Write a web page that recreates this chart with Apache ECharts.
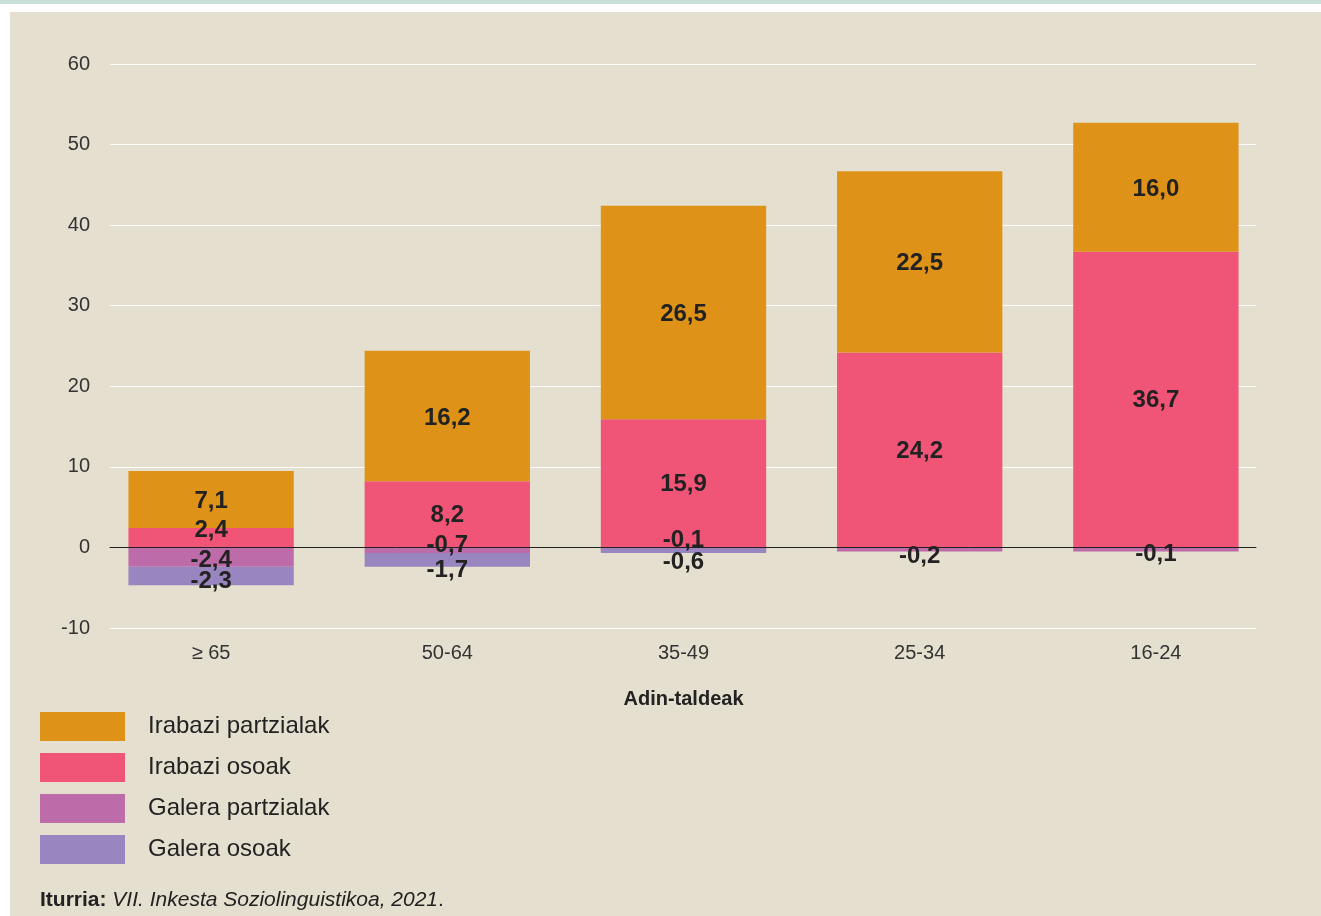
<!DOCTYPE html>
<html>
<head>
<meta charset="utf-8">
<script src="https://cdn.jsdelivr.net/npm/echarts@6/dist/echarts.min.js"></script>
<style>
  html, body { margin: 0; padding: 0; background: #fff; }
  #main { width: 1321px; height: 916px; }
</style>
</head>
<body>
<div id="main"></div>
<script>
// adin-taldeak
const categories = ["≥ 65", "50-64", "35-49", "25-34", "16-24"];
// balioak (%)
const irabaziOsoak = [2.4, 8.2, 15.9, 24.2, 36.7];
const irabaziPartzialak = [7.1, 16.2, 26.5, 22.5, 16.0];
const galeraPartzialak = [-2.4, -0.7, -0.1, -0.2, -0.1];
const galeraOsoak = [-2.3, -1.7, -0.6, 0, 0];
const yTicks = { min: -10, max: 60, interval: 10 };

const font = "'Liberation Sans', Arial, sans-serif";
const colors = {
  partz: "#de9318",
  osoak: "#f05476",
  gPartz: "#be6baa",
  gOsoak: "#9985bf",
};

// etiketen desplazamendua (px), gainjartzeak saihesteko
const labelShift = {
  osoak: [-7, 1, 1, 1, 1],
  partz: [2, 2, 2, 2, 2],
  gPartz: [3, -5, -9, 7, 5],
  gOsoak: [5, 10, 12, 0, 0],
};

function withShift(values, key) {
  return values.map((v, i) => ({
    value: v,
    label: { offset: [0, labelShift[key][i]] },
  }));
}

const barLabel = {
  show: true,
  position: "inside",
  color: "#222",
  fontFamily: font,
  fontWeight: "bold",
  fontSize: 24,
  formatter: (p) => (p.value === 0 ? "" : p.value.toFixed(1).replace(".", ",")),
};

function makeSeries(name, values, key, extra) {
  return Object.assign(
    {
      name: name,
      type: "bar",
      stack: "total",
      xAxisIndex: 0,
      yAxisIndex: 0,
      barWidth: "70%",
      itemStyle: { color: colors[key] },
      label: barLabel,
      data: withShift(values, key),
    },
    extra || {}
  );
}

const chart = echarts.init(document.getElementById("main"));
chart.setOption({
  backgroundColor: "#fff",
  animation: false,
  textStyle: { fontFamily: font },
  graphic: [
    { type: "rect", left: 0, top: 0, shape: { width: 1321, height: 4 }, style: { fill: "#c9ddd9" }, z: -10 },
    { type: "rect", left: 10, top: 12, shape: { width: 1311, height: 904 }, style: { fill: "#e4dfce" }, z: -10 },
    {
      type: "text",
      left: 40,
      top: 890,
      style: {
        text: "{b|Iturria:} {i|VII. Inkesta Soziolinguistikoa, 2021}.",
        fill: "#222",
        font: "21px " + font,
        rich: {
          b: { fontWeight: "bold", fontSize: 21, fontFamily: font, fill: "#222" },
          i: { fontStyle: "italic", fontSize: 21, fontFamily: font, fill: "#222" },
        },
      },
    },
  ],
  legend: {
    orient: "vertical",
    left: 40,
    top: 712,
    padding: 0,
    itemWidth: 85,
    itemHeight: 29,
    itemGap: 12,
    icon: "rect",
    selectedMode: false,
    textStyle: { fontSize: 24, color: "#222", fontFamily: font, padding: [0, 0, 0, 18] },
    data: ["Irabazi partzialak", "Irabazi osoak", "Galera partzialak", "Galera osoak"],
  },
  grid: [
    { left: 93, right: 47, top: 64, bottom: 288 },
    { left: 110, right: 65, top: 64, bottom: 288 },
  ],
  xAxis: [
    {
      type: "category",
      gridIndex: 0,
      data: categories,
      axisLine: { show: false, onZero: false },
      axisTick: { show: false },
      axisLabel: { color: "#333", fontSize: 20, margin: 15, fontFamily: font },
      name: "Adin-taldeak",
      nameLocation: "middle",
      nameGap: 61,
      nameTextStyle: { color: "#222", fontSize: 20, fontWeight: "bold", fontFamily: font },
    },
    {
      type: "category",
      gridIndex: 1,
      data: categories,
      z: 10,
      axisLine: { show: true, onZero: true, lineStyle: { color: "#222", width: 1 } },
      axisTick: { show: false },
      axisLabel: { show: false },
    },
  ],
  yAxis: [
    { type: "value", gridIndex: 0, min: yTicks.min, max: yTicks.max, interval: yTicks.interval, show: false },
    {
      type: "value",
      gridIndex: 1,
      min: yTicks.min,
      max: yTicks.max,
      interval: yTicks.interval,
      axisLine: { show: false },
      axisTick: { show: false },
      axisLabel: { color: "#333", fontSize: 20, margin: 20, fontFamily: font },
      splitLine: { lineStyle: { color: "#ffffff", width: 1 } },
    },
  ],
  series: [
    makeSeries("Irabazi osoak", irabaziOsoak, "osoak"),
    makeSeries("Irabazi partzialak", irabaziPartzialak, "partz"),
    makeSeries("Galera partzialak", galeraPartzialak, "gPartz", { barMinHeight: 4 }),
    makeSeries("Galera osoak", galeraOsoak, "gOsoak"),
  ],
});
</script>
</body>
</html>
